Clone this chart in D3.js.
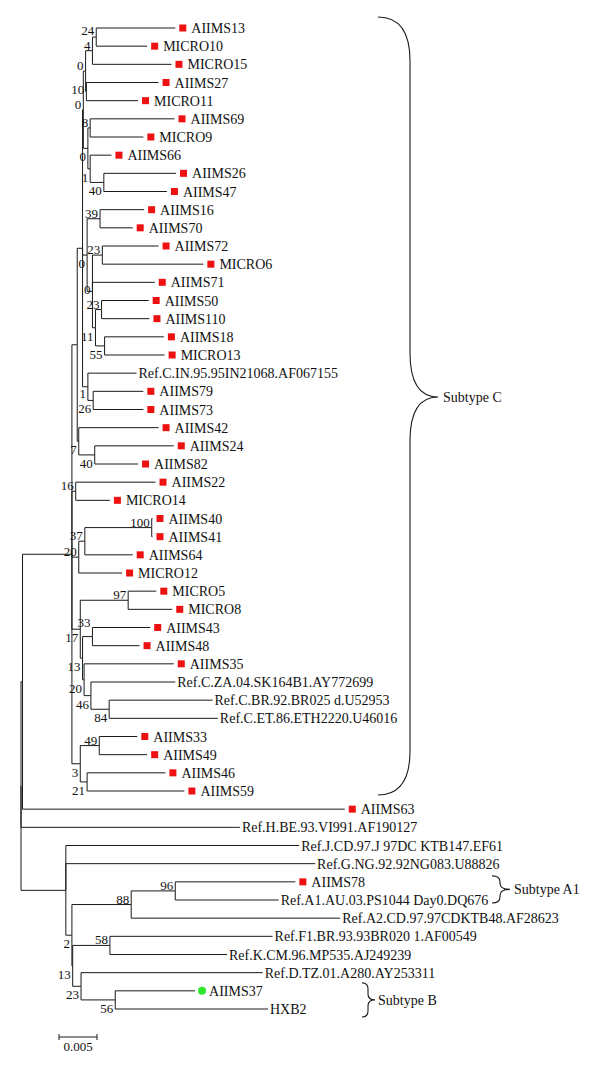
<!DOCTYPE html>
<html>
<head>
<meta charset="utf-8">
<script src="https://cdn.jsdelivr.net/npm/d3@7"></script>
<style>
body { margin: 0; background: #fff; }
text { font-family: "Liberation Serif", "DejaVu Serif", serif; fill: #111; }
</style>
</head>
<body>
<script>
// leaves, top to bottom, with parent node and branch length (subst./site)
var taxa = ["AIIMS13","MICRO10","MICRO15","AIIMS27","MICRO11","AIIMS69","MICRO9","AIIMS66","AIIMS26","AIIMS47",
  "AIIMS16","AIIMS70","AIIMS72","MICRO6","AIIMS71","AIIMS50","AIIMS110","AIIMS18","MICRO13",
  "Ref.C.IN.95.95IN21068.AF067155","AIIMS79","AIIMS73","AIIMS42","AIIMS24","AIIMS82","AIIMS22","MICRO14",
  "AIIMS40","AIIMS41","AIIMS64","MICRO12","MICRO5","MICRO8","AIIMS43","AIIMS48","AIIMS35",
  "Ref.C.ZA.04.SK164B1.AY772699","Ref.C.BR.92.BR025 d.U52953","Ref.C.ET.86.ETH2220.U46016",
  "AIIMS33","AIIMS49","AIIMS46","AIIMS59","AIIMS63","Ref.H.BE.93.VI991.AF190127",
  "Ref.J.CD.97.J 97DC KTB147.EF61","Ref.G.NG.92.92NG083.U88826","AIIMS78","Ref.A1.AU.03.PS1044 Day0.DQ676",
  "Ref.A2.CD.97.97CDKTB48.AF28623","Ref.F1.BR.93.93BR020 1.AF00549","Ref.K.CM.96.MP535.AJ249239",
  "Ref.D.TZ.01.A280.AY253311","AIIMS37","HXB2"];
var taxonParent = ["A","A","B","C","C","n8","n8","Y","n40","n40",
  "n39","n39","n23a","n23a","T","n23b","n23b","n55","n55",
  "N1b","n26","n26","N7","n40b","n40b","n16","n16",
  "n100","n100","n37","n20","n97","n97","n33","n33","N20b",
  "N46","n84","n84",
  "n49","n49","n21","n21","N1","root",
  "O","O","n96","n96",
  "n88","n58","n58",
  "n23c","n56","n56"];
var taxonLength = [0.0104,0.0067,0.0104,0.0095,0.0068,0.0111,0.0070,0.0028,0.0095,0.0083,
  0.0058,0.0043,0.0074,0.0133,0.0082,0.0062,0.0063,0.0078,0.0079,
  0.0064,0.0066,0.0066,0.0105,0.0104,0.0057,0.0105,0.0045,
  0.0001,0.0001,0.0063,0.0057,0.0037,0.0058,0.0076,0.0062,0.0118,
  0.0111,0.0136,0.0143,
  0.0050,0.0063,0.0103,0.0128,0.0424,0.0288,
  0.0307,0.0328,0.0158,0.0136,
  0.0275,0.0214,0.0154,
  0.0239,0.0105,0.0201];
// s = red square (study sample), c = green dot, "" = reference
var taxonMark = ["s","s","s","s","s","s","s","s","s","s",
  "s","s","s","s","s","s","s","s","s",
  "","s","s","s","s","s","s","s",
  "s","s","s","s","s","s","s","s","s",
  "","","",
  "s","s","s","s","s","",
  "","","s","",
  "","","",
  "","c",""];

// internal nodes
var nodeIds     = ["root","N1","O","Cc","U","V","E","D","B","A","C","X","n8","Y","n40",
  "W","n39","T","n23a","N11","n23b","n55","N1b","n26","N7","n40b",
  "n16","n20","n37","n100","N17","n97","N13","n33","N20b","N46","n84","L3","n49","n21",
  "R","n88","n96","S","n58","n23c","n56"];
var nodeParent  = [null,"root","root","N1","Cc","U","V","E","D","B","D","E","X","X","Y",
  "V","W","W","T","T","N11","N11","V","N1b","U","N7",
  "Cc","Cc","n20","n37","Cc","N17","N17","N13","N13","N20b","N46","Cc","L3","L3",
  "O","R","n88","R","S","S","n23c"];
var nodeLength  = [0,0.0002,0.0059,0.0065,0.0007,0.0007,0.0001,0.0003,0.0009,0.0005,0.0001,0.0006,0.0003,0.0003,0.0018,
  0.0006,0.0017,0.0007,0.0013,0.0004,0.0008,0.0012,0.0007,0.0007,0.0002,0.0021,
  0.0005,0.0009,0.0008,0.0088,0.0011,0.0063,0.0003,0.0013,0.0002,0.0009,0.0024,0.0011,0.0025,0.0009,
  0.0008,0.0078,0.0058,0.0001,0.0049,0.0011,0.0045];
var nodeSupport = [null,null,null,null,null,null,0,0,4,24,10,0,8,1,40,
  0,39,0,23,11,23,55,1,26,7,40,
  16,20,37,100,17,97,13,33,20,46,84,3,49,21,
  2,88,96,13,58,23,56];

// clade annotations
var cladeNames = ["Subtype C", "Subtype A1", "Subtype B"];
var cladeFirst = ["AIIMS13", "AIIMS78", "AIIMS37"];
var cladeLast  = ["AIIMS59", "Ref.A1.AU.03.PS1044 Day0.DQ676", "HXB2"];

var scaleBarValue = 0.005;

var W = 600, H = 1074;
var svg = d3.select("body").append("svg")
  .attr("width", W)
  .attr("height", H);

svg.append("rect")
  .attr("width", "100%")
  .attr("height", "100%")
  .style("fill", "white");

var rows = nodeIds.map(function (id, i) {
  return {id: id, parent: nodeParent[i], len: nodeLength[i], support: nodeSupport[i]};
}).concat(taxa.map(function (t, i) {
  return {id: t, parent: taxonParent[i], len: taxonLength[i], mark: taxonMark[i], order: i};
}));

var root = d3.stratify()
  .id(function (d) { return d.id; })
  .parentId(function (d) { return d.parent; })(rows);

var x = d3.scaleLinear().domain([0, 0.005]).range([21, 59]);
var y = d3.scalePoint().domain(taxa).range([28, 1009]);

// order children top to bottom, place nodes
root.eachAfter(function (n) {
  if (!n.children) {
    n.order = n.data.order;
    n.py = y(n.id);
  } else {
    n.children.sort(function (a, b) { return a.order - b.order; });
    n.order = n.children[0].order;
    n.py = (n.children[0].py + n.children[n.children.length - 1].py) / 2;
  }
});
root.eachBefore(function (n) {
  n.dist = n.parent ? n.parent.dist + n.data.len : 0;
  n.px = x(n.dist);
});

var g = svg.append("g");

g.selectAll("path.link")
  .data(root.links())
  .enter().append("path")
  .attr("class", "link")
  .attr("d", function (l) {
    return "M" + l.source.px + "," + l.source.py + "V" + l.target.py + "H" + l.target.px;
  })
  .style("fill", "none")
  .style("stroke", "#1a1a1a")
  .style("stroke-width", 1);

// bootstrap values: above the branch, or below when the node sits lower than its parent
var inner = root.descendants().filter(function (n) { return n.children && n.data.support != null; });
var boots = g.selectAll("text.boot")
  .data(inner)
  .enter().append("text")
  .attr("class", "boot")
  .attr("x", function (n) { return n.px - 2; })
  .attr("y", function (n) {
    n.by = n.py > n.parent.py + 3 ? n.py + 13 : n.py - 1;
    return n.by;
  })
  .attr("text-anchor", "end")
  .style("font-size", "13px")
  .text(function (n) { return n.data.support; });

// nudge clashing values apart (upper one moves up)
var boxes = [];
boots.each(function (n) {
  var b = this.getBBox();
  boxes.push({n: n, el: this, x0: b.x, x1: b.x + b.width, h: b.height});
});
boxes.sort(function (a, b) { return a.n.by - b.n.by; });
for (var i = boxes.length - 1; i >= 0; i--) {
  for (var j = i + 1; j < boxes.length; j++) {
    var a = boxes[i], b = boxes[j];
    if (a.x1 > b.x0 && b.x1 > a.x0 && b.n.by - a.n.by < a.h) {
      a.n.by = b.n.by - a.h;
      d3.select(a.el).attr("y", a.n.by);
    }
  }
}

// leaves
var leaves = root.leaves();
leaves.forEach(function (n) {
  var m = n.data.mark, tx = n.px + 2;
  if (m === "s") {
    g.append("rect")
      .attr("x", n.px + 4).attr("y", n.py - 3.5)
      .attr("width", 7).attr("height", 7)
      .style("fill", "#ee1111");
    tx = n.px + 16;
  } else if (m === "c") {
    g.append("circle")
      .attr("cx", n.px + 7).attr("cy", n.py).attr("r", 4)
      .style("fill", "#2ee82e");
    tx = n.px + 14;
  }
  g.append("text")
    .attr("x", tx)
    .attr("y", n.py + 5)
    .style("font-size", "14px")
    .text(n.id);
});

// clade braces
var braceStyle = [
  {x0: 378, xv: 410, xt: 438, top: 11, bot: 4, tip: -9, r: 44, tx: 443},
  {x0: 492, xv: 500, xt: 510, top: 6, bot: 3, tip: 0, r: 6, tx: 514},
  {x0: 362, xv: 368, xt: 375, top: 8, bot: 8, tip: 0, r: 6, tx: 378}
];
function bracePath(s, y0, y1, yt) {
  var dx = s.xv - s.x0, r = s.r;
  return "M" + s.x0 + "," + y0 +
    "C" + (s.x0 + dx * 0.7) + "," + y0 + " " + s.xv + "," + (y0 + r * 0.35) + " " + s.xv + "," + (y0 + r) +
    "L" + s.xv + "," + (yt - r) +
    "C" + s.xv + "," + (yt - r * 0.35) + " " + (s.xv + (s.xt - s.xv) * 0.3) + "," + yt + " " + s.xt + "," + yt +
    "C" + (s.xv + (s.xt - s.xv) * 0.3) + "," + yt + " " + s.xv + "," + (yt + r * 0.35) + " " + s.xv + "," + (yt + r) +
    "L" + s.xv + "," + (y1 - r) +
    "C" + s.xv + "," + (y1 - r * 0.35) + " " + (s.x0 + dx * 0.7) + "," + y1 + " " + s.x0 + "," + y1;
}
cladeNames.forEach(function (name, i) {
  var s = braceStyle[i];
  var y0 = y(cladeFirst[i]) - s.top, y1 = y(cladeLast[i]) + s.bot;
  var yt = (y0 + y1) / 2 + s.tip;
  svg.append("path")
    .attr("d", bracePath(s, y0, y1, yt))
    .style("fill", "none")
    .style("stroke", "#1a1a1a")
    .style("stroke-width", 1.1);
  svg.append("text")
    .attr("x", s.tx)
    .attr("y", yt + 5)
    .style("font-size", "14px")
    .text(name);
});

// scale bar
var sb = svg.append("g").attr("transform", "translate(59,1037)");
var sbw = x(scaleBarValue) - x(0);
sb.append("path")
  .attr("d", "M0,-3V3M0,0H" + sbw + "M" + sbw + ",-3V3")
  .style("fill", "none")
  .style("stroke", "#1a1a1a");
sb.append("text")
  .attr("x", sbw / 2)
  .attr("y", 14)
  .attr("text-anchor", "middle")
  .style("font-size", "13px")
  .text(scaleBarValue);
</script>
</body>
</html>
